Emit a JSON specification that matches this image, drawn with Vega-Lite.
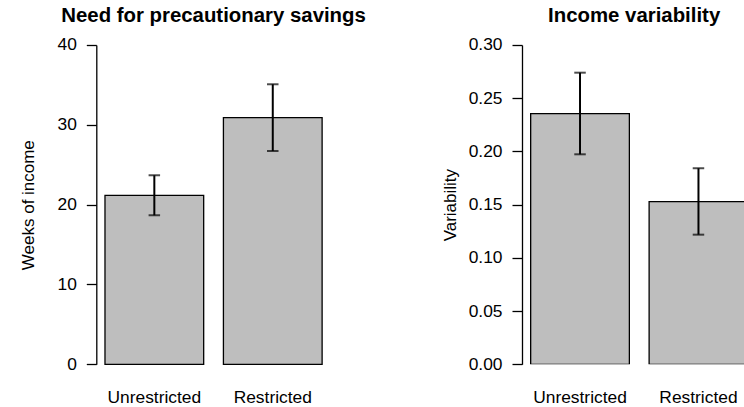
{
  "$schema": "https://vega.github.io/schema/vega-lite/v6.json",
  "background": "white",
  "padding": {"left": 19.3, "top": 5, "right": 0, "bottom": 0},
  "spacing": 74.7,
  "config": {
    "view": {"stroke": null},
    "font": "Liberation Sans",
    "axis": {"labelFont": "Liberation Sans", "titleFont": "Liberation Sans", "labelColor": "black", "titleColor": "black", "labelFontSize": 17.4, "titleFontSize": 17, "titleFontWeight": "normal", "domainColor": "black", "tickColor": "black", "domainWidth": 1.3, "tickWidth": 1.3, "grid": false},
    "title": {"font": "Liberation Sans", "fontSize": 20.4, "fontWeight": "bold", "color": "black", "anchor": "middle", "frame": "group", "offset": 10}
  },
  "datasets": {
    "savings": [
      {"group": "Unrestricted", "value": 21.17, "lo": 18.67, "hi": 23.68},
      {"group": "Restricted", "value": 30.89, "lo": 26.72, "hi": 35.08}
    ],
    "variability": [
      {"group": "Unrestricted", "value": 0.2355, "lo": 0.1973, "hi": 0.274},
      {"group": "Restricted", "value": 0.1528, "lo": 0.1218, "hi": 0.1842}
    ]
  },
  "hconcat": [
    {
      "width": 234.5,
      "height": 319.3,
      "title": "Need for precautionary savings",
      "data": {"name": "savings"},
      "encoding": {
        "x": {"field": "group", "type": "nominal", "sort": ["Unrestricted", "Restricted"], "scale": {"paddingInner": 0.166667, "paddingOuter": 0.0733}, "axis": {"title": null, "domain": false, "ticks": false, "tickSize": 0, "labelAngle": 0, "labelBaseline": "alphabetic", "labelPadding": 38}}
      },
      "layer": [
        {
          "mark": {"type": "bar", "fill": "#bebebe", "stroke": "black", "strokeWidth": 1.3},
          "encoding": {"y": {"field": "value", "type": "quantitative", "scale": {"domain": [0, 40], "nice": false}, "axis": {"values": [0, 10, 20, 30, 40], "title": "Weeks of income", "tickSize": 10, "labelPadding": 10, "titleX": -63, "titleBaseline": "alphabetic"}}}
        },
        {
          "mark": {"type": "rule", "color": "black", "strokeWidth": 2},
          "encoding": {"y": {"field": "lo", "type": "quantitative"}, "y2": {"field": "hi"}}
        },
        {
          "mark": {"type": "tick", "orient": "horizontal", "color": "black", "size": 11.5, "thickness": 2},
          "encoding": {"y": {"field": "lo", "type": "quantitative"}}
        },
        {
          "mark": {"type": "tick", "orient": "horizontal", "color": "black", "size": 11.5, "thickness": 2},
          "encoding": {"y": {"field": "hi", "type": "quantitative"}}
        }
      ]
    },
    {
      "width": 224.3,
      "height": 319.3,
      "title": "Income variability",
      "data": {"name": "variability"},
      "encoding": {
        "x": {"field": "group", "type": "nominal", "sort": ["Unrestricted", "Restricted"], "scale": {"paddingInner": 0.166667, "paddingOuter": 0.0733, "range": [0, 234.5]}, "axis": {"title": null, "domain": false, "ticks": false, "tickSize": 0, "labelAngle": 0, "labelBaseline": "alphabetic", "labelPadding": 38}}
      },
      "layer": [
        {
          "mark": {"type": "bar", "fill": "#bebebe", "stroke": "black", "strokeWidth": 1.3, "clip": true},
          "encoding": {"y": {"field": "value", "type": "quantitative", "scale": {"domain": [0, 0.3], "nice": false}, "axis": {"values": [0, 0.05, 0.1, 0.15, 0.2, 0.25, 0.3], "format": ".2f", "title": "Variability", "tickSize": 10, "labelPadding": 10, "titleX": -66.5, "titleBaseline": "alphabetic"}}}
        },
        {
          "mark": {"type": "rule", "color": "black", "strokeWidth": 2},
          "encoding": {"y": {"field": "lo", "type": "quantitative"}, "y2": {"field": "hi"}}
        },
        {
          "mark": {"type": "tick", "orient": "horizontal", "color": "black", "size": 11.5, "thickness": 2},
          "encoding": {"y": {"field": "lo", "type": "quantitative"}}
        },
        {
          "mark": {"type": "tick", "orient": "horizontal", "color": "black", "size": 11.5, "thickness": 2},
          "encoding": {"y": {"field": "hi", "type": "quantitative"}}
        }
      ]
    }
  ]
}
